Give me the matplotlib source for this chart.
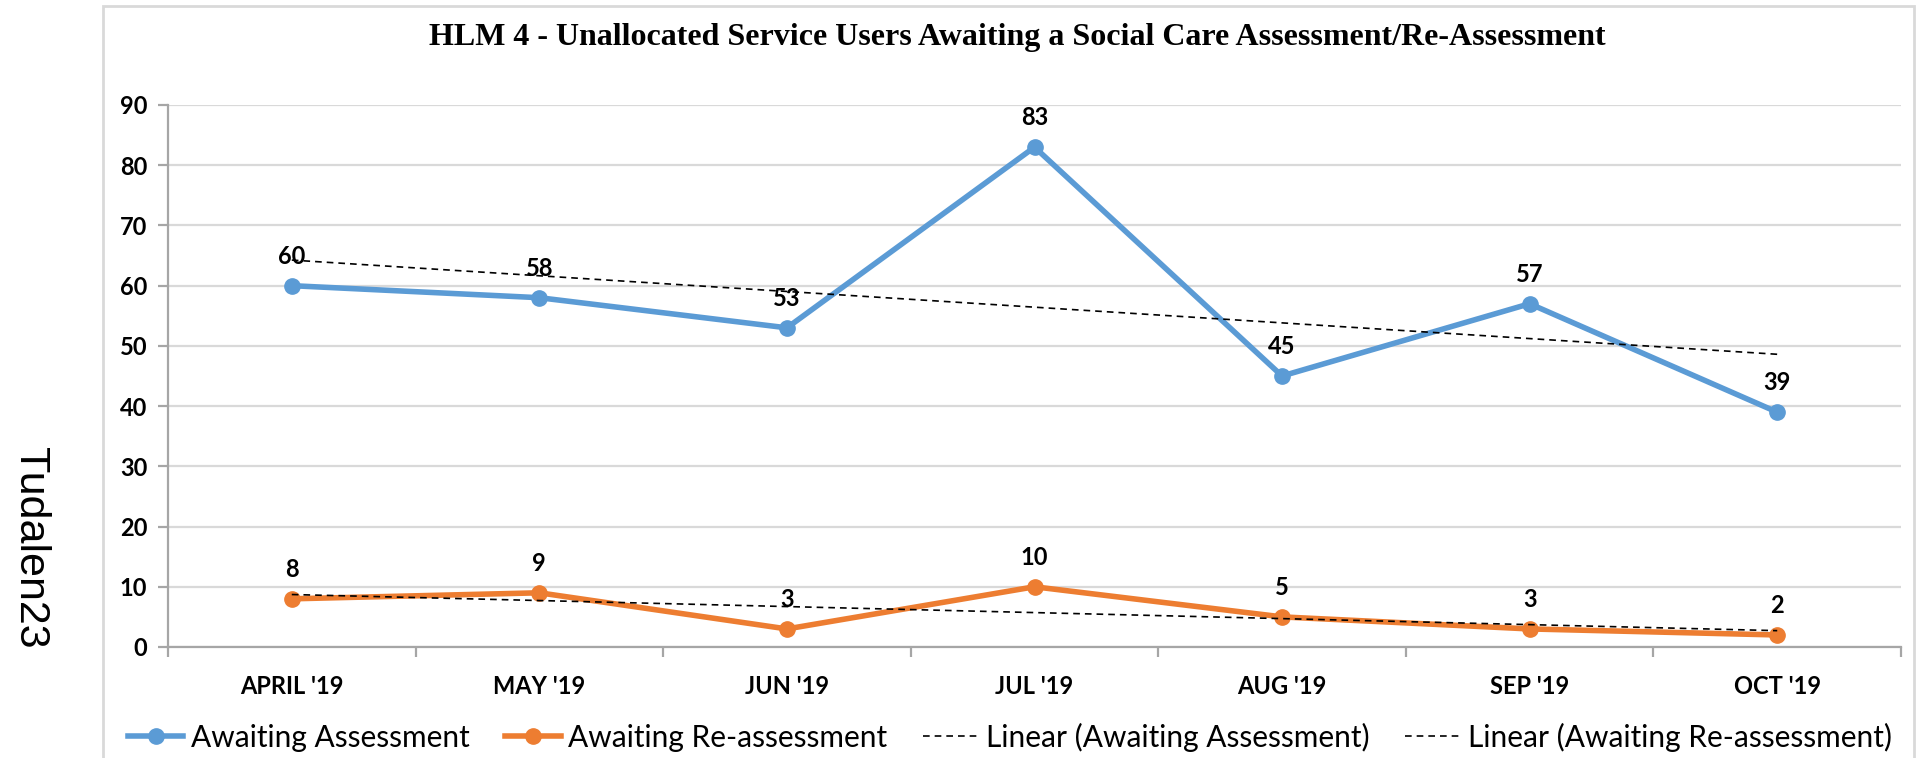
import numpy as np
import matplotlib
matplotlib.use("Agg")
import matplotlib.pyplot as plt
from matplotlib.patches import Rectangle

# Monthly counts of unallocated service users
months = ["APRIL '19", "MAY '19", "JUN '19", "JUL '19", "AUG '19", "SEP '19", "OCT '19"]
awaiting_assessment = [60, 58, 53, 83, 45, 57, 39]
awaiting_reassessment = [8, 9, 3, 10, 5, 3, 2]

title = "HLM 4 - Unallocated Service Users Awaiting a Social Care Assessment/Re-Assessment"
side_text = "Tudalen23"

BLUE = "#5B9BD5"
ORANGE = "#ED7D31"
GRID = "#D9D9D9"
AXIS = "#A6A6A6"

W, H = 1921, 758
fig = plt.figure(figsize=(W / 100, H / 100), dpi=100)
fig.patch.set_facecolor("white")

# chart frame
fig.patches.append(Rectangle((103 / W, -0.05), (1914 - 103) / W, 1.05 - 6 / H,
                             transform=fig.transFigure, fill=False,
                             edgecolor="#D9D9D9", linewidth=2.0, zorder=0))

left, right = 168 / W, 1901 / W
bottom, top = 1 - 647 / H, 1 - 105 / H
ax = fig.add_axes([left, bottom, right - left, top - bottom])

x = np.arange(len(months))

ax.set_xlim(-0.5, len(months) - 0.5)
ax.set_ylim(0, 90)
ax.set_yticks(range(0, 91, 10))
ax.yaxis.grid(True, color=GRID, linewidth=1.6)
ax.set_axisbelow(True)

for s in ["top", "right"]:
    ax.spines[s].set_visible(False)
for s in ["left", "bottom"]:
    ax.spines[s].set_color(AXIS)
    ax.spines[s].set_linewidth(1.6)

# category ticks sit between categories; labels centred on the points
ax.set_xticks(np.arange(-0.5, len(months), 1.0))
ax.set_xticklabels([])
ax.set_xticks(x, minor=True)
ax.set_xticklabels(months, minor=True)
ax.tick_params(axis="x", which="major", length=7, width=1.6, color=AXIS, direction="out")
ax.tick_params(axis="x", which="minor", length=0, pad=20)
ax.tick_params(axis="y", length=7, width=1.6, color=AXIS, pad=8)

for lab in ax.get_xticklabels(minor=True) + ax.get_yticklabels():
    lab.set_fontfamily("Lato")
    lab.set_fontweight("bold")
    lab.set_fontsize(17)
    lab.set_color("black")

l1, = ax.plot(x, awaiting_assessment, color=BLUE, lw=4.0, marker="o", ms=11,
              solid_joinstyle="round", zorder=4, label="Awaiting Assessment")
l2, = ax.plot(x, awaiting_reassessment, color=ORANGE, lw=4.0, marker="o", ms=11,
              solid_joinstyle="round", zorder=4, label="Awaiting Re-assessment")

# linear trendlines
xt = x + 1
fit_a = np.polyfit(xt, awaiting_assessment, 1)
fit_r = np.polyfit(xt, awaiting_reassessment, 1)
t1, = ax.plot(x, np.polyval(fit_a, xt), color="black", lw=1.2, ls=(0, (4, 3)), zorder=5,
              label="Linear (Awaiting Assessment)")
t2, = ax.plot(x, np.polyval(fit_r, xt), color="black", lw=1.2, ls=(0, (4, 3)), zorder=5,
              label="Linear (Awaiting Re-assessment)")

for series in (awaiting_assessment, awaiting_reassessment):
    for xi, v in zip(x, series):
        ax.annotate(str(v), (xi, v), xytext=(0, 21), textcoords="offset points",
                    ha="center", va="center", fontsize=17, fontweight="bold",
                    family="Lato", color="black", zorder=6)

fig.text(1017 / W, 1 - 37 / H, title, ha="center", va="center",
         family="Liberation Serif", fontweight="bold", fontsize=23)

fig.text(30 / W, 1 - 548 / H, side_text, rotation=270, ha="center", va="center",
         family="Liberation Sans", fontsize=31)

leg = fig.legend(handles=[l1, l2, t1, t2], loc="center", ncol=4,
                 bbox_to_anchor=(1010 / W, 1 - 737 / H), frameon=False,
                 prop={"family": "Lato", "size": 21.5}, handlelength=1.85,
                 handletextpad=0.25, columnspacing=1.2)

fig.savefig("out.png", dpi=100, facecolor="white")
